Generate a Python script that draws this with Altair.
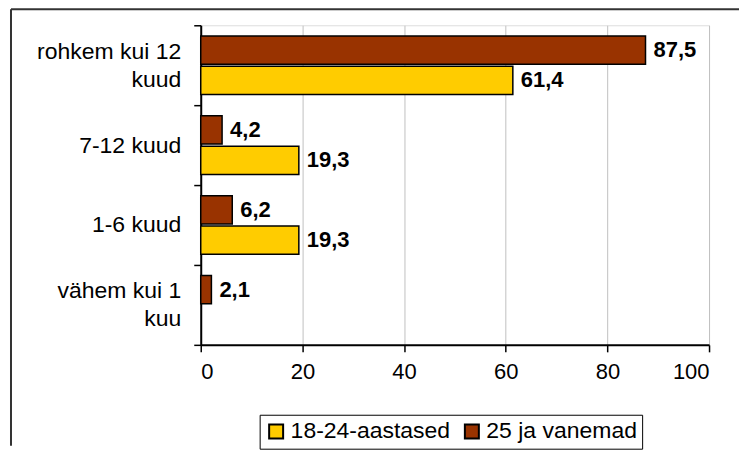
import altair as alt
import pandas as pd

NB = "\u00a0"
categories = [
    "rohkem kui 12\nkuud" + NB * 7,
    "7-12 kuud",
    "1-6 kuud",
    "vähem kui 1\nkuu" + NB * 7,
]
series = ["18-24-aastased", "25 ja vanemad"]
vals_young = [61.4, 19.3, 19.3, None]
vals_old = [87.5, 4.2, 6.2, 2.1]
x_ticks = [0, 20, 40, 60, 80, 100]
colors = ["#FFCC00", "#993300"]

rows = []
for c, vy, vo in zip(categories, vals_young, vals_old):
    if vy is not None:
        rows.append({"cat": c, "series": series[0], "value": vy})
    if vo is not None:
        rows.append({"cat": c, "series": series[1], "value": vo})
df = pd.DataFrame(rows)

FONT = "Liberation Sans"
multi = "isValid(datum.value) && indexof(datum.value, '\\n') >= 0"

y_enc = alt.Y(
    "cat:N",
    sort=categories,
    scale=alt.Scale(paddingInner=0, paddingOuter=0),
    axis=alt.Axis(
        title=None,
        tickBand="extent",
        labelExpr="isValid(datum.value) ? split(datum.value, '\\n') : ''",
        labelOffset={"condition": {"test": multi, "value": -14}, "value": 0},
        labelFontSize=23,
        labelLineHeight=28,
        labelPadding=13,
        labelFont=FONT,
        labelColor="black",
        tickSize=7,
        tickColor="black",
        tickWidth=1.5,
        domainColor="black",
        domainWidth=2,
        grid=False,
    ),
)
yoff_enc = alt.YOffset(
    "series:N",
    sort=[series[1], series[0]],
    scale=alt.Scale(paddingInner=0.07, paddingOuter=0.35),
)
x_enc = alt.X(
    "value:Q",
    scale=alt.Scale(domain=[0, 100], nice=False),
    axis=alt.Axis(
        title=None,
        values=x_ticks,
        labelFontSize=22,
        labelFont=FONT,
        labelColor="black",
        labelPadding=10,
        tickSize=7,
        tickColor="black",
        tickWidth=1.5,
        domainColor="black",
        domainWidth=2,
        grid=True,
        gridColor="#c0c0c0",
        gridWidth=1,
    ),
)

bars = alt.Chart(df).mark_bar(stroke="black", strokeWidth=1.5).encode(
    y=y_enc,
    yOffset=yoff_enc,
    x=x_enc,
    color=alt.Color(
        "series:N",
        scale=alt.Scale(domain=series, range=colors),
        legend=alt.Legend(
            title=None,
            orient="none",
            legendX=59,
            legendY=390,
            direction="horizontal",
            strokeColor="black",
            fillColor="white",
            padding=5,
            labelFontSize=23,
            labelFont=FONT,
            labelColor="black",
            labelOffset=3,
            columnPadding=10,
            symbolType="square",
            symbolSize=196,
            symbolStrokeColor="black",
            symbolStrokeWidth=2,
            symbolOpacity=1,
        ),
    ),
)

labels = alt.Chart(df).transform_calculate(
    lbl="replace(format(datum.value, '.1f'), '.', ',')"
).mark_text(
    align="left", baseline="middle", dx=8, fontSize=22, fontWeight="bold", font=FONT, color="black"
).encode(
    y=alt.Y("cat:N", sort=categories),
    yOffset=alt.YOffset("series:N", sort=[series[1], series[0]]),
    x="value:Q",
    text="lbl:N",
)

frame_df = pd.DataFrame({"k": [0]})
top_rule = alt.Chart(frame_df).mark_rule(color="#333333", strokeWidth=2).encode(
    x=alt.value(-190), x2=alt.value(539), y=alt.value(-16)
)
left_rule = alt.Chart(frame_df).mark_rule(color="#333333", strokeWidth=2).encode(
    x=alt.value(-190), y=alt.value(-16), y2=alt.value(421)
)

chart = (
    alt.layer(bars, labels, top_rule, left_rule)
    .properties(width=509, height=320, padding={"left": 2, "top": 0, "right": 0, "bottom": 0})
    .configure_view(stroke="#808080", strokeWidth=2)
    .configure(font=FONT)
)

chart.save("out.html", embed_options={"renderer": "svg", "actions": False})
